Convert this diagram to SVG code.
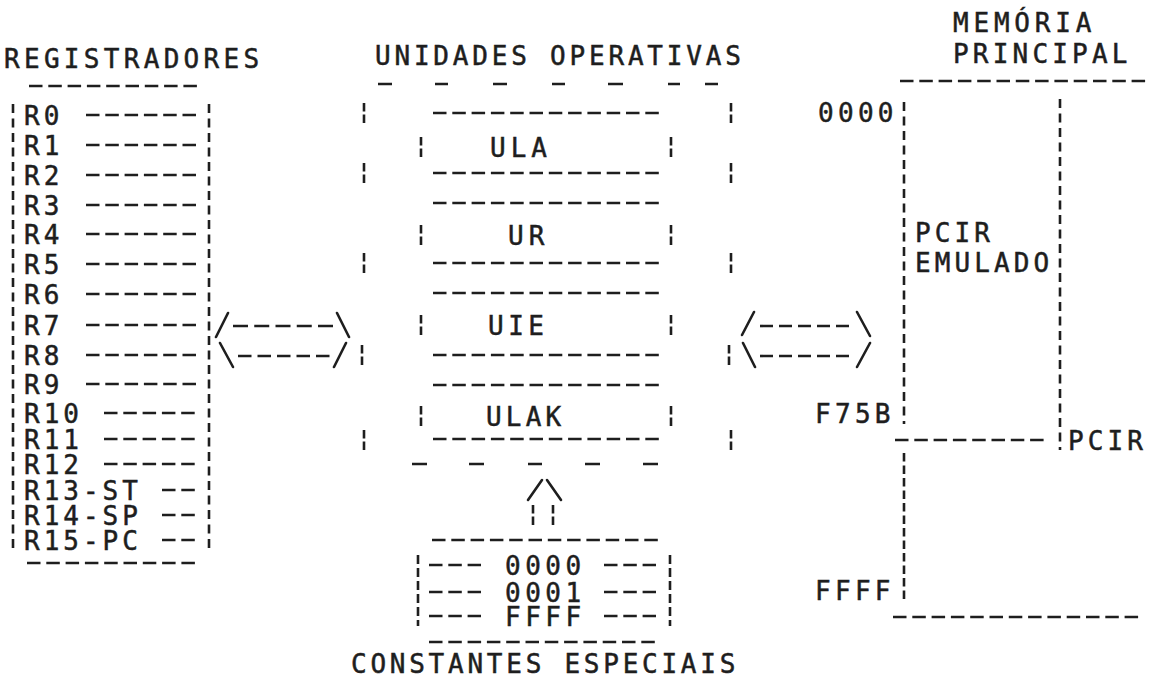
<svg xmlns="http://www.w3.org/2000/svg" width="1153" height="680" viewBox="0 0 1153 680">
<style>
.t{font-family:"DejaVu Sans Mono",monospace;font-size:26px;fill:#1e1e1e;stroke:#1e1e1e;stroke-width:0.5;letter-spacing:4px}
.d{stroke:#1e1e1e;stroke-width:2.6;stroke-dasharray:13.5 5.8;fill:none}
.g{stroke:#1e1e1e;stroke-width:2.6;fill:none}
.b{stroke:#1e1e1e;stroke-width:2.6;stroke-dasharray:8.5 3;fill:none}
.v{stroke:#1e1e1e;stroke-width:2.6;stroke-dasharray:9 5.5;fill:none}
.s{stroke:#1e1e1e;stroke-width:2.6;fill:none;stroke-linecap:round}
</style>
<rect width="1153" height="680" fill="#ffffff"/>

<g id="registradores">
<text class="t" x="4" y="67.5" style="letter-spacing:4.3px">REGISTRADORES</text>
<line class="d" x1="29" y1="86" x2="198" y2="86"/>
<line class="v" x1="13" y1="104" x2="13" y2="550"/>
<line class="v" x1="209" y1="104" x2="209" y2="550"/>
<text class="t" x="24" y="124.5">R0</text>
<text class="t" x="24" y="154.5">R1</text>
<text class="t" x="24" y="184.5">R2</text>
<text class="t" x="24" y="214.5">R3</text>
<text class="t" x="24" y="243.5">R4</text>
<text class="t" x="24" y="273.5">R5</text>
<text class="t" x="24" y="303.5">R6</text>
<text class="t" x="24" y="334.5">R7</text>
<text class="t" x="24" y="364.5">R8</text>
<text class="t" x="24" y="393.5">R9</text>
<text class="t" x="24" y="422.5">R10</text>
<text class="t" x="24" y="448.5">R11</text>
<text class="t" x="24" y="473.5">R12</text>
<text class="t" x="24" y="499.5">R13-ST</text>
<text class="t" x="24" y="524.5">R14-SP</text>
<text class="t" x="24" y="549.5">R15-PC</text>
<line class="d" x1="86" y1="115" x2="198" y2="115"/>
<line class="d" x1="86" y1="145" x2="198" y2="145"/>
<line class="d" x1="86" y1="175" x2="198" y2="175"/>
<line class="d" x1="86" y1="205" x2="198" y2="205"/>
<line class="d" x1="86" y1="234" x2="198" y2="234"/>
<line class="d" x1="86" y1="264" x2="198" y2="264"/>
<line class="d" x1="86" y1="294" x2="198" y2="294"/>
<line class="d" x1="86" y1="325" x2="198" y2="325"/>
<line class="d" x1="86" y1="355" x2="198" y2="355"/>
<line class="d" x1="86" y1="384" x2="198" y2="384"/>
<line class="d" x1="104" y1="413" x2="196" y2="413"/>
<line class="d" x1="104" y1="439" x2="196" y2="439"/>
<line class="d" x1="104" y1="464" x2="196" y2="464"/>
<line class="d" x1="162" y1="490" x2="196" y2="490"/>
<line class="d" x1="162" y1="515" x2="196" y2="515"/>
<line class="d" x1="162" y1="540" x2="196" y2="540"/>
<line class="d" x1="27" y1="563" x2="195" y2="563"/>
</g>

<g id="unidades-operativas">
<text class="t" x="375" y="64.5" style="letter-spacing:3.8px">UNIDADES OPERATIVAS</text>
<path class="g" d="M378 84H392M435 84H448M493 84H507M552 84H565M608 84H623M668 84H680M705 84H718"/>
<path class="b" d="M364 103V123M731 103V123M364 163V183M731 163V183M364 253V273M731 253V273M362 345V365M729 345V365M364 430V450M731 430V450"/>
<path class="g" d="M412 464H427M469 464H484M528 464H542M585 464H600M643 464H658"/>
</g>

<g id="ula">
<line class="d" x1="433" y1="113" x2="660" y2="113"/>
<path class="b" d="M421 137V157M671 137V157"/>
<text class="t" x="490" y="156.5" style="letter-spacing:5px">ULA</text>
<line class="d" x1="433" y1="173" x2="660" y2="173"/>
</g>

<g id="ur">
<line class="d" x1="433" y1="203" x2="660" y2="203"/>
<path class="b" d="M421 225V245M671 225V245"/>
<text class="t" x="508" y="244.5" style="letter-spacing:5px">UR</text>
<line class="d" x1="433" y1="263" x2="660" y2="263"/>
</g>

<g id="uie">
<line class="d" x1="433" y1="293" x2="660" y2="293"/>
<path class="b" d="M421 315V335M671 315V335"/>
<text class="t" x="488" y="334.5" style="letter-spacing:4.5px">UIE</text>
<line class="d" x1="433" y1="355" x2="660" y2="355"/>
</g>

<g id="ulak">
<line class="d" x1="433" y1="385" x2="660" y2="385"/>
<path class="b" d="M421 406V426M671 406V426"/>
<text class="t" x="486" y="425.5" style="letter-spacing:4.2px">ULAK</text>
<line class="d" x1="433" y1="439" x2="660" y2="439"/>
</g>

<g id="constantes-especiais">
<line class="d" x1="432" y1="540" x2="658" y2="540"/>
<line class="v" x1="418" y1="555" x2="418" y2="626" style="stroke-dasharray:9 4"/>
<line class="v" x1="670" y1="555" x2="670" y2="626" style="stroke-dasharray:9 4"/>
<line class="d" x1="429" y1="565" x2="481" y2="565"/>
<text class="t" x="505" y="574.5" style="letter-spacing:4.5px">0000</text>
<line class="d" x1="604" y1="565" x2="656" y2="565"/>
<line class="d" x1="429" y1="592" x2="481" y2="592"/>
<text class="t" x="505" y="601.5" style="letter-spacing:4.5px">0001</text>
<line class="d" x1="604" y1="592" x2="656" y2="592"/>
<line class="d" x1="429" y1="616" x2="481" y2="616"/>
<text class="t" x="505" y="625.5" style="letter-spacing:4.5px">FFFF</text>
<line class="d" x1="604" y1="616" x2="656" y2="616"/>
<line class="d" x1="429" y1="642" x2="657" y2="642"/>
<text class="t" x="351" y="672.5" style="letter-spacing:3.75px">CONSTANTES ESPECIAIS</text>
</g>

<g id="memoria-principal">
<text class="t" x="953" y="31.5" style="letter-spacing:4.8px">MEMÓRIA</text>
<text class="t" x="953" y="62.5" style="letter-spacing:4.2px">PRINCIPAL</text>
<line class="d" x1="900" y1="81" x2="1146" y2="81"/>
<text class="t" x="818" y="121.5" style="letter-spacing:4.3px">0000</text>
<line class="v" x1="904" y1="102" x2="904" y2="424"/>
<line class="v" x1="904" y1="453" x2="904" y2="601" style="stroke-dasharray:8.5 4"/>
<line class="v" x1="1060" y1="99" x2="1060" y2="450"/>
<text class="t" x="915" y="241.5" style="letter-spacing:4.1px">PCIR</text>
<text class="t" x="915" y="271.5" style="letter-spacing:4.1px">EMULADO</text>
<text class="t" x="815" y="422.5" style="letter-spacing:4.3px">F75B</text>
<line class="d" x1="895" y1="440" x2="1047" y2="440"/>
<text class="t" x="1068" y="449.5" style="letter-spacing:4.1px">PCIR</text>
<text class="t" x="815" y="599.5" style="letter-spacing:4.3px">FFFF</text>
<line class="d" x1="893" y1="617" x2="1140" y2="617"/>
</g>

<g id="connectors">
<path class="s" d="M216 337L228 313M337 313L349 337M220 343L233 367M334 367L346 343"/>
<line class="d" x1="233" y1="326" x2="333" y2="326" style="stroke-dasharray:15 6.25"/>
<line class="d" x1="238" y1="356" x2="330" y2="356" style="stroke-dasharray:13.5 6"/>
<path class="s" d="M742 335L754 312M857 312L870 336M743 343L755 367M857 367L870 343"/>
<line class="d" x1="760" y1="326" x2="850" y2="326" style="stroke-dasharray:13 6"/>
<line class="d" x1="760" y1="356" x2="850" y2="356" style="stroke-dasharray:13 6"/>
<path class="s" d="M528 500L542 480M547 480L561 500"/>
<path class="b" d="M533 505V525M553 505V525"/>
</g>
</svg>
